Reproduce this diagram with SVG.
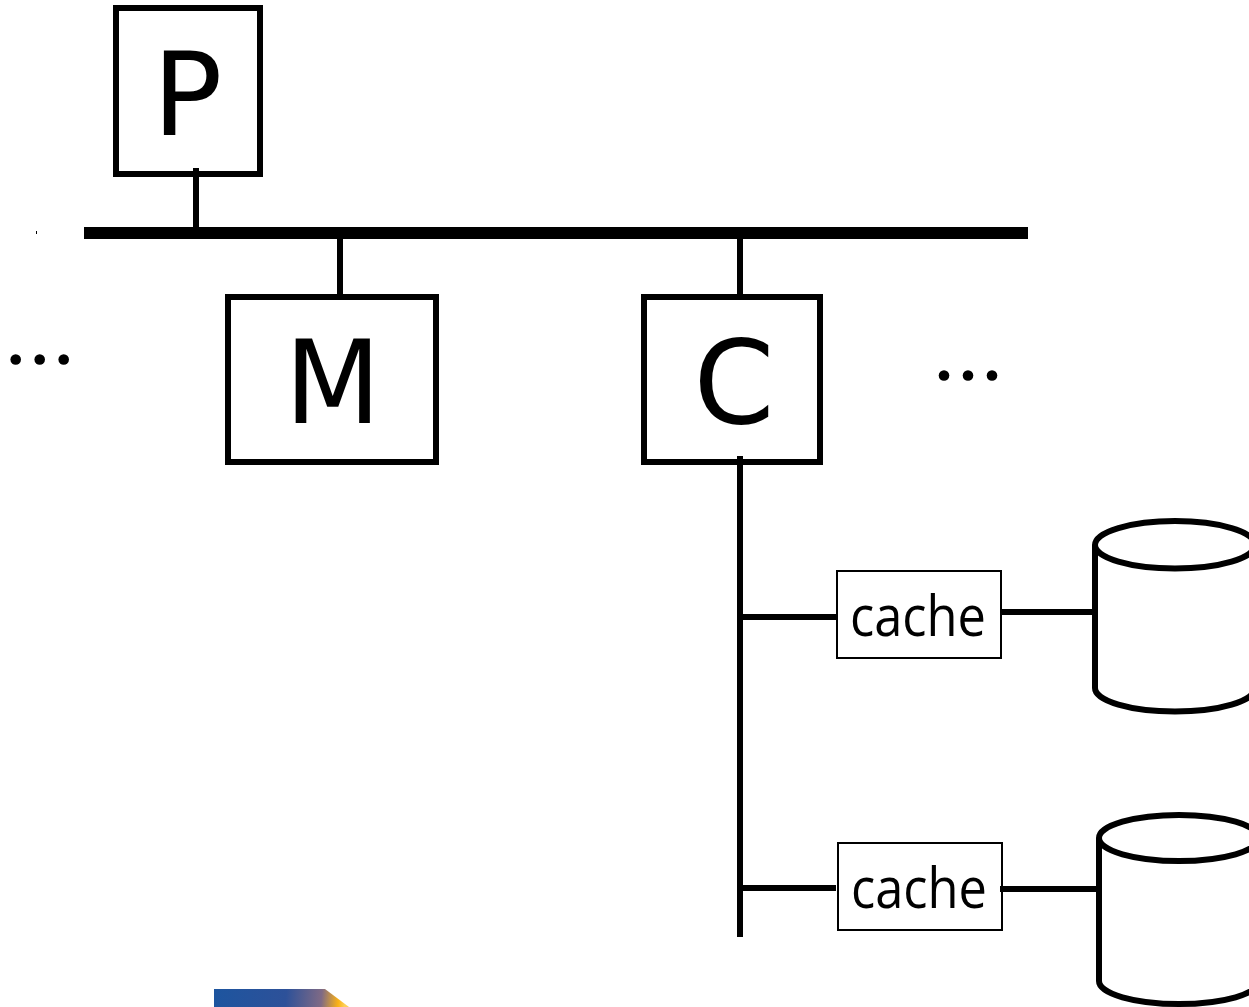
<svg xmlns="http://www.w3.org/2000/svg" width="1249" height="1007" viewBox="0 0 1249 1007">
<defs>
<linearGradient id="g" x1="214" y1="990" x2="345" y2="1000" gradientUnits="userSpaceOnUse"><stop offset="0" stop-color="#1d559f"/><stop offset="0.55" stop-color="#2d5199"/><stop offset="0.82" stop-color="#7f6a85"/><stop offset="0.95" stop-color="#fbb216"/><stop offset="1" stop-color="#fdd05a"/></linearGradient>
</defs>
<style>
.big{font-family:"DejaVu Sans",sans-serif;font-size:116px;fill:#000}
.small{font-family:"Open Sans",sans-serif;font-size:57px;fill:#000}
.box{fill:#fff;stroke:#000;stroke-width:6}
.cbox{fill:#fff;stroke:#000;stroke-width:2}
.w{fill:none;stroke:#000;stroke-width:6}
.cyl{fill:#fff;stroke:#000;stroke-width:6}
</style>
<rect width="1249" height="1007" fill="#fff"/>
<g id="node-P"><rect class="box" x="116" y="8" width="144" height="166"/><text class="big" x="152.600" y="135">P</text></g>
<g id="node-M"><rect class="box" x="228" y="297" width="208" height="165"/><text class="big" x="284.800" y="423" textLength="96" lengthAdjust="spacingAndGlyphs">M</text></g>
<g id="node-C"><rect class="box" x="644" y="297" width="176" height="165"/><text class="big" x="693.500" y="423">C</text></g>
<g id="node-cache1"><rect class="cbox" x="837" y="571" width="164" height="87"/><text class="small" x="850" y="636" textLength="136" lengthAdjust="spacingAndGlyphs">cache</text></g>
<g id="node-cache2"><rect class="cbox" x="838" y="843" width="164" height="87"/><text class="small" x="851" y="908" textLength="136" lengthAdjust="spacingAndGlyphs">cache</text></g>
<g id="node-disk1"><path class="cyl" d="M1095 545A80 24 0 0 1 1255 545V688A80 23.500 0 0 1 1095 688Z"/><path class="w" d="M1095 545A80 23.500 0 0 0 1255 545"/></g>
<g id="node-disk2"><path class="cyl" d="M1099 838A80 23 0 0 1 1259 838V981A80 23 0 0 1 1099 981Z"/><path class="w" d="M1099 838A80 23 0 0 0 1259 838"/></g>
<g id="connectors">
<rect x="84" y="227" width="944" height="12" fill="#000"/>
<path class="w" d="M196 168V228M340 238V296M740 238V296M740 456V937"/>
<path class="w" stroke-width="5" d="M741 617H836M1002 612H1095M741 888H836M1000 889H1098"/>
</g>
<g id="dots-left" fill="#000"><circle cx="15.700" cy="359.500" r="5.300"/><circle cx="39.700" cy="359.500" r="5.300"/><circle cx="63.700" cy="359.500" r="5.300"/></g>
<g id="dots-right" fill="#000"><circle cx="944" cy="375.500" r="5.300"/><circle cx="968" cy="375.500" r="5.300"/><circle cx="992" cy="375.500" r="5.300"/></g>
<rect x="36" y="231" width="1" height="3" fill="#000"/>
<path d="M214 989H325L349 1007H214Z" fill="url(#g)"/>
</svg>
